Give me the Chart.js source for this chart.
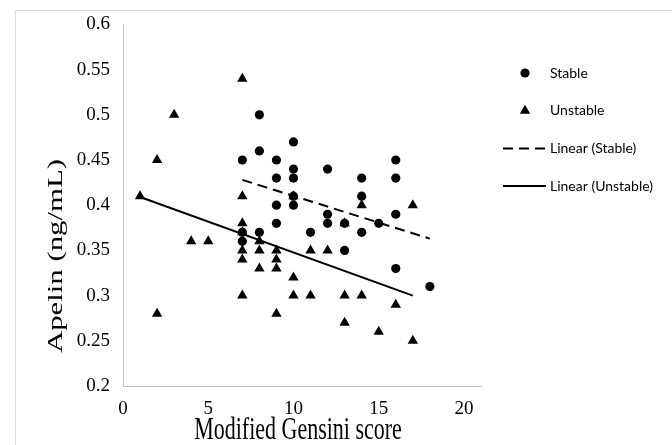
<!DOCTYPE html>
<html>
<head>
<meta charset="utf-8">
<script src="https://cdn.jsdelivr.net/npm/chart.js@4.4.0/dist/chart.umd.min.js"></script>
<style>
  html, body { margin: 0; padding: 0; background: #fff; }
  #wrap { position: relative; width: 672px; height: 445px; overflow: hidden; }
  #frame { position: absolute; left: 15px; top: 10px; width: 700px; height: 480px; border: 1px solid #dcdcdc; }
  #chart { position: absolute; left: 0; top: 0; }
</style>
</head>
<body>
<div id="wrap">
  <div id="frame"></div>
  <canvas id="chart" width="672" height="445"></canvas>
</div>
<script>
// Modified Gensini score (x) vs Apelin (ng/mL) (y)
const stableScore  = [7, 7, 7, 8, 8, 8, 9, 9, 9, 9, 10, 10, 10, 10, 10, 11, 12, 12, 12, 13, 13, 14, 14, 14, 15, 16, 16, 16, 16, 18];
const stableApelin = [0.45, 0.37, 0.36, 0.50, 0.46, 0.37, 0.45, 0.43, 0.40, 0.38, 0.47, 0.44, 0.43, 0.41, 0.40, 0.37, 0.44, 0.39, 0.38, 0.38, 0.35, 0.43, 0.41, 0.37, 0.38, 0.45, 0.43, 0.39, 0.33, 0.31];

const unstableScore  = [1, 2, 2, 3, 4, 5, 7, 7, 7, 7, 7, 7, 7, 8, 8, 8, 9, 9, 9, 9, 10, 10, 10, 11, 11, 12, 13, 13, 13, 14, 14, 15, 16, 17, 17];
const unstableApelin = [0.41, 0.45, 0.28, 0.50, 0.36, 0.36, 0.54, 0.41, 0.38, 0.37, 0.35, 0.34, 0.30, 0.36, 0.35, 0.33, 0.35, 0.34, 0.33, 0.28, 0.41, 0.32, 0.30, 0.35, 0.30, 0.35, 0.38, 0.30, 0.27, 0.40, 0.30, 0.26, 0.29, 0.40, 0.25];

// linear trendlines (end values)
const trendStableScore    = [7, 18];
const trendStableApelin   = [0.428, 0.363];
const trendUnstableScore  = [1, 17];
const trendUnstableApelin = [0.409, 0.300];

const xTicks = [0, 5, 10, 15, 20];

const toPoints = (xs, ys) => xs.map((x, i) => ({ x: x, y: ys[i] }));

// legend on the right, drawn from the datasets
const sideLegend = {
    id: 'sideLegend',
    afterDraw(chart, args, opts) {
        const ctx = chart.ctx;
        ctx.save();
        ctx.font = opts.font;
        ctx.textBaseline = 'middle';
        ctx.textAlign = 'left';
        chart.data.datasets.forEach((ds, i) => {
            const y = opts.top + i * opts.spacing;
            if (ds.showLine) {
                ctx.beginPath();
                ctx.setLineDash(ds.borderDash || []);
                ctx.lineWidth = ds.borderWidth;
                ctx.strokeStyle = ds.borderColor;
                ctx.moveTo(opts.lineStart, y);
                ctx.lineTo(opts.lineEnd, y);
                ctx.stroke();
                ctx.setLineDash([]);
            } else {
                ctx.fillStyle = ds.backgroundColor;
                ctx.strokeStyle = ds.borderColor;
                Chart.helpers.drawPoint(ctx, {
                    pointStyle: ds.pointStyle,
                    radius: ds.pointRadius,
                    rotation: 0,
                    borderWidth: 0
                }, opts.markerX, y);
            }
            ctx.fillStyle = '#000';
            ctx.fillText(ds.label, opts.textX, y);
        });
        ctx.restore();
    }
};

// axis titles, a little taller than wide like the original
const axisTitles = {
    id: 'axisTitles',
    afterDraw(chart, args, opts) {
        const ctx = chart.ctx;
        const area = chart.chartArea;
        const xt = chart.options.scales.x.title.text;
        const yt = chart.options.scales.y.title.text;
        ctx.save();
        ctx.font = opts.font;
        ctx.fillStyle = '#000';
        ctx.textAlign = 'center';
        ctx.textBaseline = 'middle';

        ctx.save();
        ctx.translate((area.left + area.right) / 2 - 4, opts.xTitleY);
        ctx.scale(1, opts.stretch);
        ctx.fillText(xt, 0, 0);
        ctx.restore();

        ctx.save();
        ctx.translate(opts.yTitleX, opts.yTitleY);
        ctx.rotate(-Math.PI / 2);
        ctx.scale(opts.stretch, 1);
        ctx.fillText(yt, 0, 0);
        ctx.restore();

        ctx.restore();
    }
};

const tickFont = { family: '"Liberation Serif", "Times New Roman", serif', size: 19 };

new Chart(document.getElementById('chart'), {
    type: 'scatter',
    data: {
        datasets: [
            {
                label: 'Stable',
                data: toPoints(stableScore, stableApelin),
                pointStyle: 'circle',
                pointRadius: 4.6,
                backgroundColor: '#000',
                borderColor: '#000',
                borderWidth: 0
            },
            {
                label: 'Unstable',
                data: toPoints(unstableScore, unstableApelin),
                pointStyle: 'triangle',
                pointRadius: 6,
                backgroundColor: '#000',
                borderColor: '#000',
                borderWidth: 0
            },
            {
                label: 'Linear (Stable)',
                type: 'line',
                data: toPoints(trendStableScore, trendStableApelin),
                showLine: true,
                pointRadius: 0,
                borderColor: '#000',
                borderWidth: 2,
                borderDash: [10, 6]
            },
            {
                label: 'Linear (Unstable)',
                type: 'line',
                data: toPoints(trendUnstableScore, trendUnstableApelin),
                showLine: true,
                pointRadius: 0,
                borderColor: '#000',
                borderWidth: 2
            }
        ]
    },
    options: {
        responsive: false,
        animation: false,
        layout: { padding: { left: 0, right: 191, top: 21, bottom: 0 } },
        plugins: {
            legend: { display: false },
            tooltip: { enabled: false },
            sideLegend: {
                font: '14px Lato, "Open Sans", sans-serif',
                top: 73,
                spacing: 37.7,
                markerX: 525,
                lineStart: 503,
                lineEnd: 546,
                textX: 550
            },
            axisTitles: {
                font: '22px "Liberation Serif", "Times New Roman", serif',
                stretch: 1.4,
                xTitleY: 431,
                yTitleX: 56,
                yTitleY: 256
            }
        },
        scales: {
            x: {
                type: 'linear',
                min: 0,
                max: 21,
                afterBuildTicks: scale => {
                    scale.ticks = xTicks.map(v => ({ value: v }));
                },
                afterFit: scale => { scale.height = 59; },
                title: { display: false, text: 'Modified Gensini score' },
                grid: { display: false, drawTicks: false },
                border: { display: true, color: '#c4c4c4', width: 1 },
                ticks: {
                    font: tickFont,
                    color: '#000',
                    padding: 12,
                    maxRotation: 0,
                    callback: v => String(v)
                }
            },
            y: {
                min: 0.2,
                max: 0.6,
                afterFit: scale => { scale.width = 123; },
                title: { display: false, text: 'Apelin (ng/mL)' },
                grid: { display: false, drawTicks: false },
                border: { display: true, color: '#c4c4c4', width: 1 },
                ticks: {
                    stepSize: 0.05,
                    font: tickFont,
                    color: '#000',
                    padding: 13,
                    callback: v => String(Number(v.toFixed(2)))
                }
            }
        }
    },
    plugins: [sideLegend, axisTitles]
});
</script>
</body>
</html>
